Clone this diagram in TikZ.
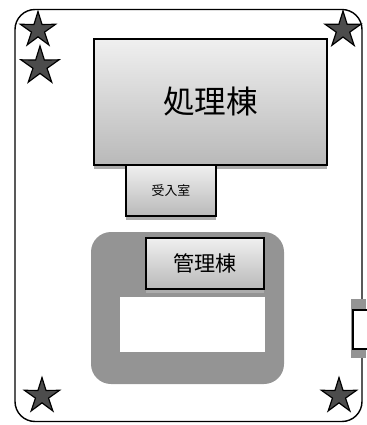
\documentclass[tikz,border=0pt]{standalone}
\usepackage{fontspec}
\usepackage{xcolor}
\usepackage{tikz}
\usetikzlibrary{shapes,shapes.geometric,shadows}
\setmainfont{Noto Sans CJK JP}
\definecolor{scan}{gray}{0.58}
\tikzset{
  site/.style={draw, line width=1.2pt, rounded corners=0.6cm, minimum width=347*0.03cm, minimum height=412*0.03cm, inner sep=0pt},
  bldg/.style={draw, line width=1.2pt, top color=gray!12, bottom color=gray!55, inner sep=0pt, drop shadow={shadow xshift=0pt, shadow yshift=-3pt, fill=gray!65, opacity=1}},
  yard/.style={fill=scan, rounded corners=0.6cm, inner sep=0pt, minimum width=193*0.03cm, minimum height=152*0.03cm},
  empty/.style={fill=white, inner sep=0pt, minimum width=145*0.03cm, minimum height=55*0.03cm},
  starmark/.style={star, star points=5, star point ratio=2.7, draw=black, line width=1pt, fill=black!70, inner sep=0pt}
}
\begin{document}
\begin{tikzpicture}[x=0.03cm,y=-0.03cm]
	\useasboundingbox (0,0) rectangle (366,425);
	\node [site] (site) at (188.5,215.5) {};
	% buildings
	\node [yard] (yard) at (187.5,308) {};
	\node [bldg, minimum width=233*0.03cm, minimum height=126*0.03cm, font=\fontsize{27}{27}\selectfont] (shori) at (210.5,102) {処理棟};
	\node [bldg, minimum width=90*0.03cm, minimum height=51*0.03cm, font=\fontsize{11}{11}\selectfont] (ukeire) at (171,190.5) {受入室};
	\node [bldg, minimum width=118*0.03cm, minimum height=51*0.03cm, font=\fontsize{18}{18}\selectfont] (kanri) at (205,263.5) {管理棟};
	\node [empty] (blank) at (192.5,324.5) {};
	% gate on the right edge
	\node [fill=scan, inner sep=0pt, minimum width=15*0.03cm, minimum height=59*0.03cm] (gatebase) at (358.5,328.5) {};
	\node [draw, line width=2pt, fill=white, inner sep=0pt, minimum width=22*0.03cm, minimum height=39*0.03cm] (gate) at (364,329.5) {};
	% stars
	\node [starmark, minimum size=37*0.03cm] (s1) at (38,30) {};
	\node [starmark, minimum size=40*0.03cm] (s2) at (40,66) {};
	\node [starmark, minimum size=38*0.03cm] (s3) at (343,30) {};
	\node [starmark, minimum size=37*0.03cm] (s4) at (42,396) {};
	\node [starmark, minimum size=37*0.03cm] (s5) at (339,396) {};
\end{tikzpicture}
\end{document}
